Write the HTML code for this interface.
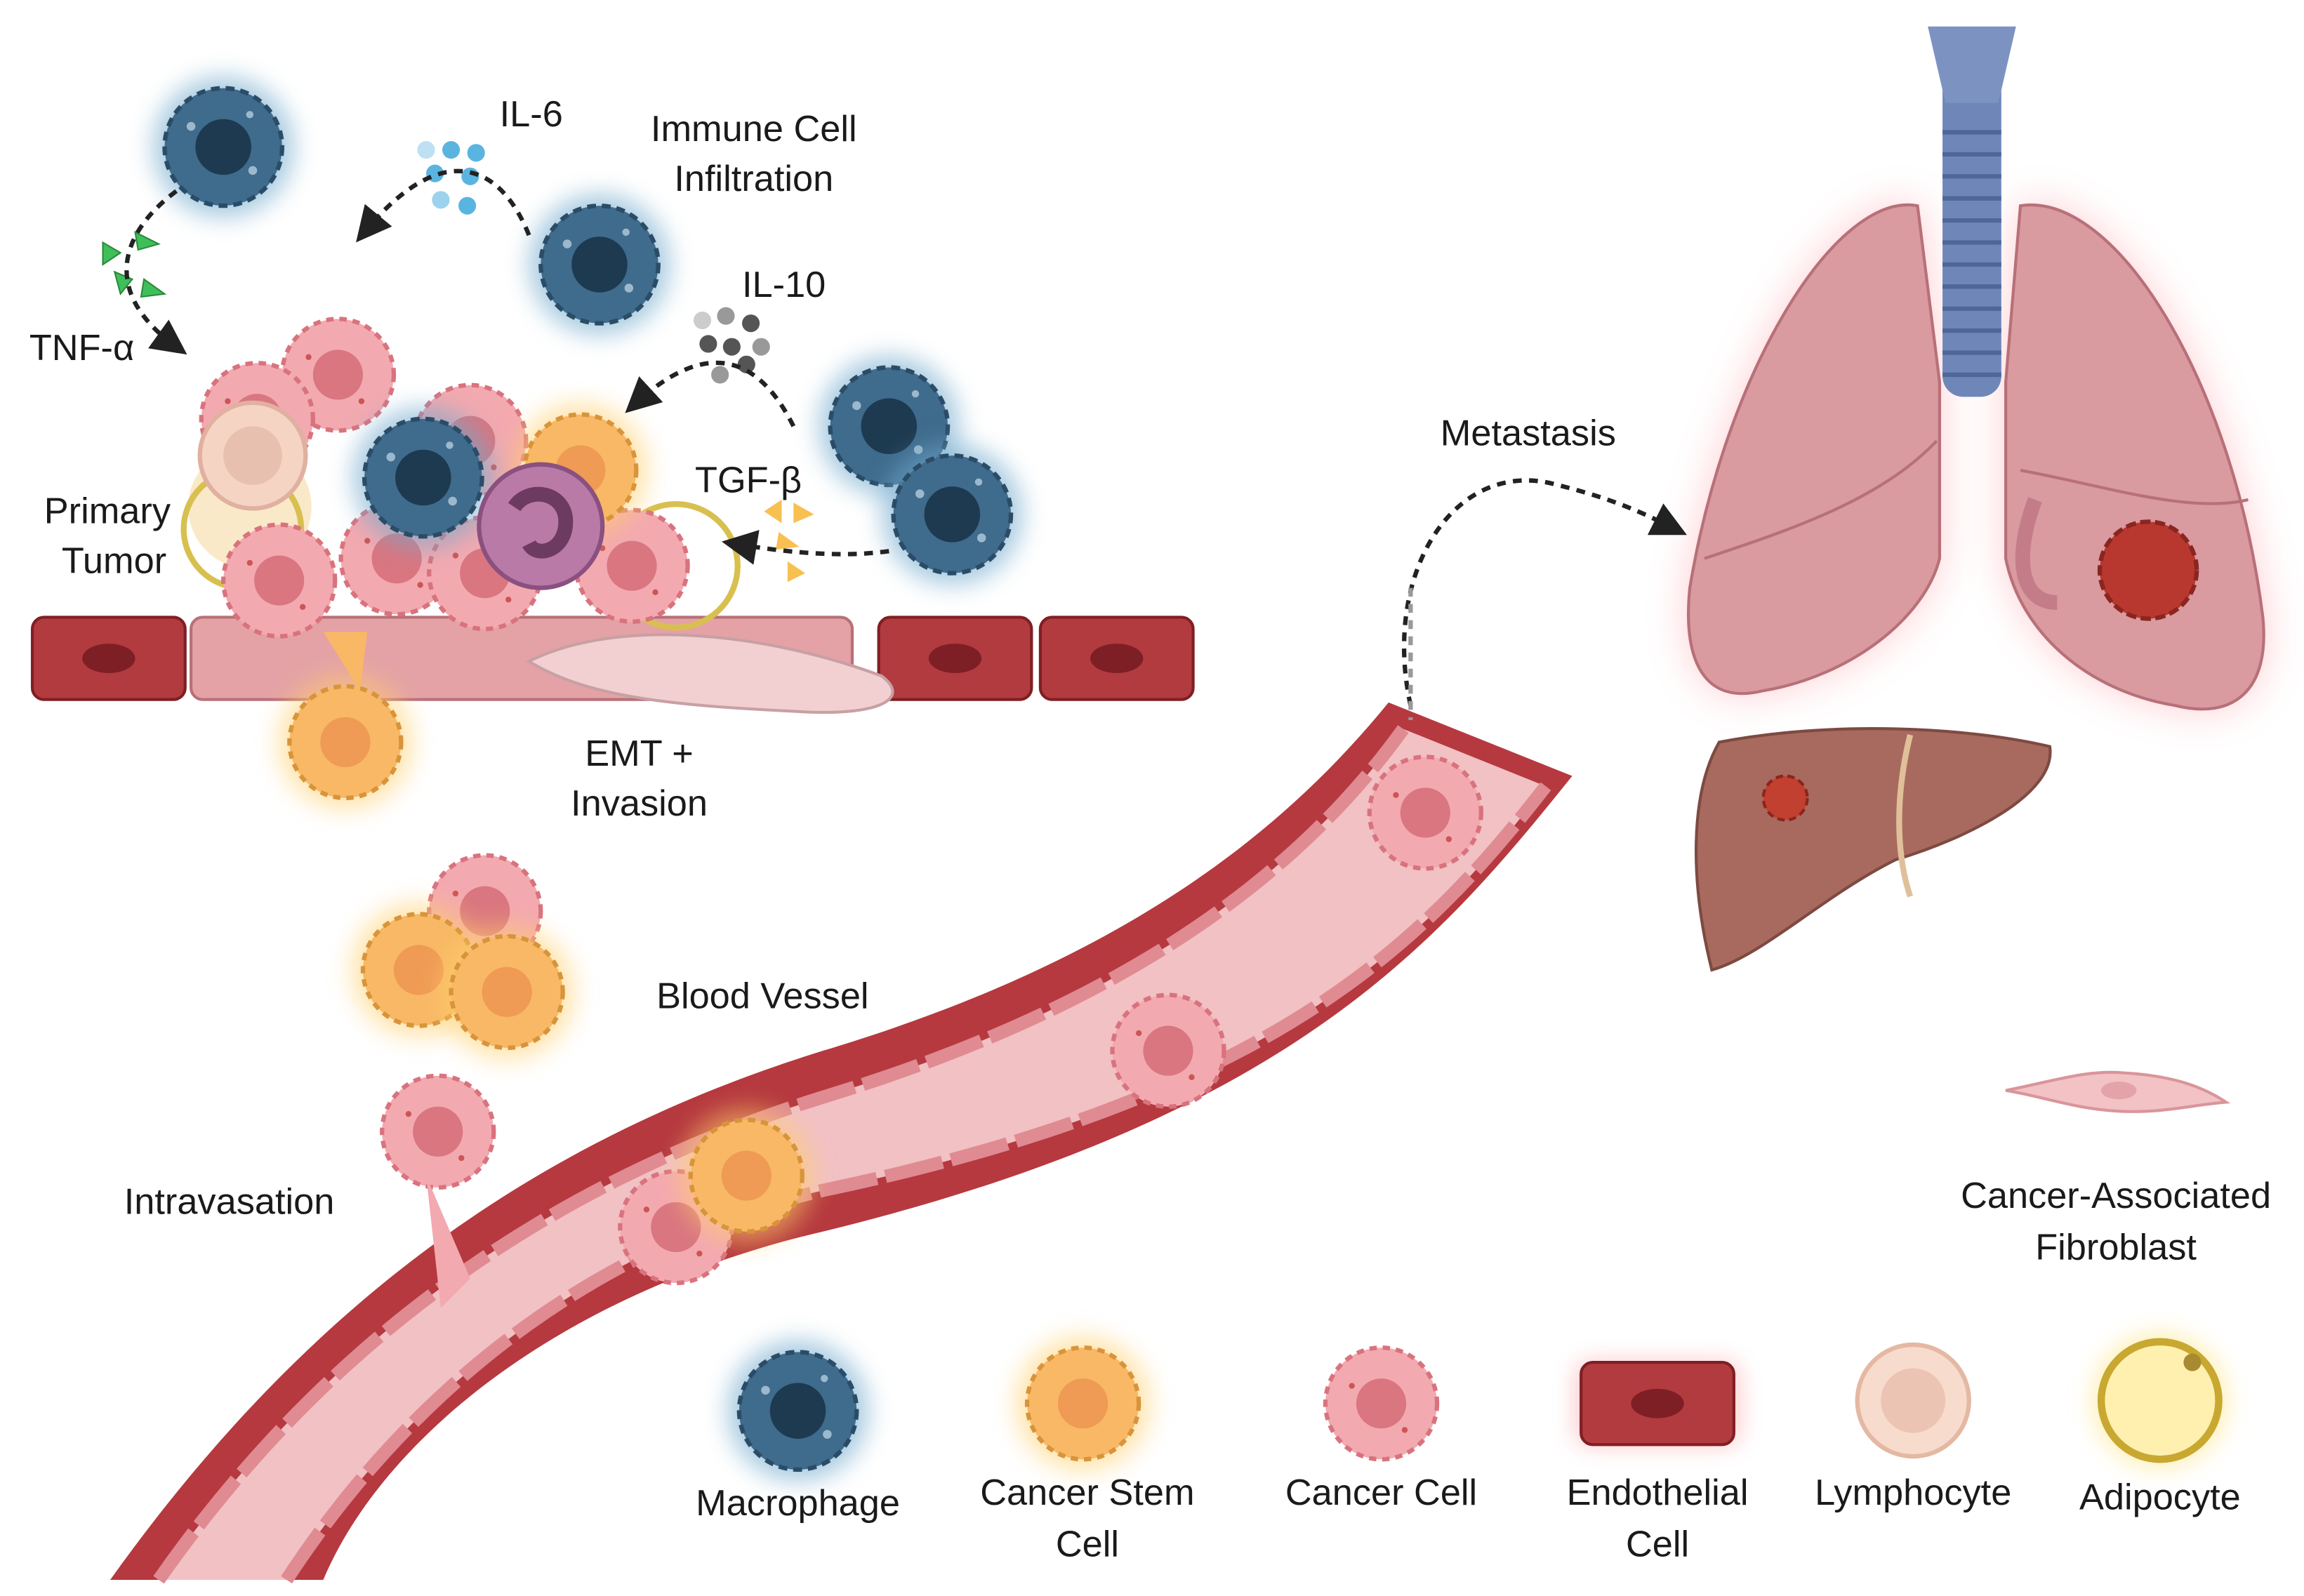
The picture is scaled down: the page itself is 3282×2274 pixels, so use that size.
<!DOCTYPE html>
<html><head><meta charset="utf-8"><style>
html,body{margin:0;padding:0;background:#fff}
svg{display:block}
text{font-family:"Liberation Sans",sans-serif;fill:#1a1a1a;font-size:25px}
</style></head><body>
<svg width="3282" height="2274" viewBox="0 0 1568 1086" preserveAspectRatio="none" xmlns="http://www.w3.org/2000/svg">
<defs>
<filter id="g" x="-50%" y="-50%" width="200%" height="200%"><feGaussianBlur stdDeviation="8"/></filter>
<filter id="g2" x="-30%" y="-30%" width="160%" height="160%"><feGaussianBlur stdDeviation="14"/></filter>
<marker id="ar" markerWidth="8" markerHeight="8" refX="5" refY="4" orient="auto"><path d="M0,0 L8,4 L0,8 z" fill="#222"/></marker>
<g id="mac"><circle r="48" fill="#6fa8cc" opacity=".6" filter="url(#g)"/><circle r="40" fill="#3f6b8c" stroke="#2a4c66" stroke-width="3" stroke-dasharray="6 4"/><circle r="19" fill="#1d3a50"/><circle cx="-22" cy="-14" r="3" fill="#9cb8cc"/><circle cx="20" cy="16" r="3" fill="#9cb8cc"/><circle cx="18" cy="-22" r="2.5" fill="#9cb8cc"/></g>
<g id="cc"><circle r="38" fill="#f3a9b0" stroke="#d8737e" stroke-width="3" stroke-dasharray="5 4"/><circle r="17" fill="#d97680"/><circle cx="-20" cy="-12" r="2" fill="#c55"/><circle cx="16" cy="18" r="2" fill="#c55"/></g>
<g id="csc"><circle r="46" fill="#ffcf6a" opacity=".55" filter="url(#g)"/><circle r="38" fill="#f8b865" stroke="#d8943a" stroke-width="3" stroke-dasharray="5 4"/><circle r="17" fill="#ef9a55"/></g>
<g id="endo"><rect x="-52" y="-28" width="104" height="56" rx="8" fill="#b23b3f" stroke="#7f1f24" stroke-width="2"/><ellipse rx="18" ry="10" fill="#7e1f26"/></g>
</defs>
<rect width="1568" height="1086" fill="#fff"/>

<!-- lungs -->
<g>
<path d="M1305 140 C1250 130 1175 250 1150 400 C1145 450 1160 480 1200 470 C1260 460 1310 420 1320 380 L1320 260 Z" fill="#ff8a95" opacity=".45" filter="url(#g2)"/>
<path d="M1375 140 C1440 130 1520 260 1540 420 C1545 470 1520 490 1480 480 C1420 470 1375 430 1365 380 L1365 260 Z" fill="#ff8a95" opacity=".45" filter="url(#g2)"/>
<path d="M1305 140 C1250 130 1175 250 1150 400 C1145 450 1160 480 1200 470 C1260 460 1310 420 1320 380 L1320 260 Z" fill="#d99aa0" stroke="#b87078" stroke-width="2"/>
<path d="M1375 140 C1440 130 1520 260 1540 420 C1545 470 1520 490 1480 480 C1420 470 1375 430 1365 380 L1365 260 Z" fill="#d99aa0" stroke="#b87078" stroke-width="2"/>
<path d="M1160 380 C1220 360 1280 340 1318 300" stroke="#b87078" stroke-width="2" fill="none"/>
<path d="M1375 320 C1430 330 1490 350 1530 340" stroke="#b87078" stroke-width="2" fill="none"/>
<path d="M1385 340 C1370 380 1375 410 1400 410" stroke="#b06070" stroke-width="10" fill="none" opacity=".5"/>
<rect x="1322" y="20" width="40" height="250" rx="14" fill="#6f86b8"/>
<path d="M1312 18 L1372 18 L1360 70 L1324 70 Z" fill="#7c93c2"/>
<g stroke="#4f6698" stroke-width="3">
<line x1="1322" y1="90" x2="1362" y2="90"/><line x1="1322" y1="105" x2="1362" y2="105"/><line x1="1322" y1="120" x2="1362" y2="120"/><line x1="1322" y1="135" x2="1362" y2="135"/><line x1="1322" y1="150" x2="1362" y2="150"/><line x1="1322" y1="165" x2="1362" y2="165"/><line x1="1322" y1="180" x2="1362" y2="180"/><line x1="1322" y1="195" x2="1362" y2="195"/><line x1="1322" y1="210" x2="1362" y2="210"/><line x1="1322" y1="225" x2="1362" y2="225"/><line x1="1322" y1="240" x2="1362" y2="240"/><line x1="1322" y1="255" x2="1362" y2="255"/>
</g>
<circle cx="1462" cy="388" r="33" fill="#b8382f" stroke="#8a2520" stroke-width="3" stroke-dasharray="7 3"/>
</g>
<!-- liver -->
<path d="M1170 505 C1250 490 1340 495 1395 508 C1400 540 1340 570 1290 585 C1240 610 1200 650 1165 660 C1150 600 1150 540 1170 505 Z" fill="#a86a5e" stroke="#7d4a42" stroke-width="2"/>
<path d="M1300 500 C1290 540 1290 580 1300 610" stroke="#e0c09a" stroke-width="4" fill="none"/>
<circle cx="1215" cy="543" r="15" fill="#c2402f" stroke="#8a2520" stroke-width="2" stroke-dasharray="5 3"/>

<!-- CAF legend -->
<path d="M1365 742 C1400 735 1420 728 1445 730 C1480 732 1500 740 1515 750 C1490 752 1470 758 1440 756 C1410 754 1390 746 1365 742 Z" fill="#f2c2c4" stroke="#d9959a" stroke-width="2"/>
<ellipse cx="1442" cy="742" rx="12" ry="6" fill="#e3a3a8"/>

<!-- blood vessel -->
<path d="M75 1075 C200 900 350 780 560 715 C760 655 870 570 945 478 L1070 528 C980 640 880 760 560 838 C380 880 260 980 220 1075 Z" fill="#b5393f"/>
<path d="M108 1075 C220 915 370 805 565 745 C760 685 880 600 955 496 L1052 535 C970 640 870 745 560 810 C390 850 270 960 195 1075 Z" fill="#f1c1c4"/>
<path d="M108 1075 C220 915 370 805 565 745 C760 685 880 600 955 496" stroke="#e08a92" stroke-width="9" fill="none" stroke-dasharray="40 6"/>
<path d="M195 1075 C270 960 390 850 560 810 C870 745 970 640 1052 535" stroke="#e08a92" stroke-width="9" fill="none" stroke-dasharray="40 6"/>
<use href="#cc" x="970" y="553"/>
<use href="#cc" x="795" y="715"/>
<use href="#cc" x="460" y="835"/>
<use href="#csc" x="508" y="800"/>

<!-- intravasation -->
<use href="#cc" x="298" y="770"/>
<path d="M290 800 L320 870 L300 890 Z" fill="#f3a9b0"/>
<use href="#cc" x="330" y="620"/>
<use href="#csc" x="285" y="660"/>
<use href="#csc" x="345" y="675"/>

<!-- endothelium strip -->
<use href="#endo" x="74" y="448"/>
<rect x="130" y="420" width="450" height="56" rx="8" fill="#e4a2a6" stroke="#b87078" stroke-width="2"/>
<use href="#endo" x="650" y="448"/>
<use href="#endo" x="760" y="448"/>
<path d="M360 450 C420 420 520 430 600 460 C620 475 600 488 540 484 C460 480 400 475 360 450 Z" fill="#f2d0d2" stroke="#c8a0a4" stroke-width="2"/>

<!-- tumor -->
<circle cx="170" cy="345" r="42" fill="#f8e0b0" opacity=".7"/>
<circle cx="460" cy="385" r="42" fill="none" stroke="#d8c050" stroke-width="4"/>
<circle cx="165" cy="360" r="40" fill="none" stroke="#d8c050" stroke-width="4"/>
<use href="#cc" x="230" y="255"/>
<use href="#cc" x="175" y="285"/>
<use href="#cc" x="320" y="300"/>
<use href="#cc" x="190" y="395"/>
<use href="#cc" x="270" y="380"/>
<use href="#cc" x="330" y="390"/>
<use href="#cc" x="430" y="385"/>
<use href="#csc" x="395" y="320"/>
<use href="#csc" x="235" y="505"/>
<path d="M220 430 L250 430 L245 470 Z" fill="#f8b865"/>
<circle cx="172" cy="310" r="36" fill="#f5d4c4" stroke="#e0b0a0" stroke-width="3"/>
<circle cx="172" cy="310" r="20" fill="#e8c0b0"/>
<use href="#mac" x="288" y="325"/>
<circle cx="368" cy="358" r="42" fill="#b97aa8" stroke="#8a5080" stroke-width="3"/>
<path d="M350 345 C360 330 385 335 385 355 C385 375 365 380 360 370" stroke="#6d3a62" stroke-width="10" fill="none"/>

<!-- macrophages -->
<use href="#mac" x="152" y="100"/>
<use href="#mac" x="408" y="180"/>
<use href="#mac" x="605" y="290"/>
<use href="#mac" x="648" y="350"/>

<!-- cytokines -->
<g fill="#5ab4e0"><circle cx="290" cy="102" r="6" opacity=".4"/><circle cx="307" cy="102" r="6"/><circle cx="324" cy="104" r="6"/><circle cx="296" cy="118" r="6"/><circle cx="320" cy="120" r="6"/><circle cx="300" cy="136" r="6" opacity=".6"/><circle cx="318" cy="140" r="6"/></g>
<g fill="#555"><circle cx="478" cy="218" r="6" opacity=".3"/><circle cx="494" cy="215" r="6" opacity=".6"/><circle cx="511" cy="220" r="6"/><circle cx="482" cy="234" r="6"/><circle cx="498" cy="236" r="6"/><circle cx="518" cy="236" r="6" opacity=".6"/><circle cx="490" cy="255" r="6" opacity=".6"/><circle cx="508" cy="248" r="6"/></g>
<g fill="#3fbf5a" stroke="#2a8a3a" stroke-width="1"><path d="M70 165 L82 172 L70 180Z"/><path d="M92 158 L108 166 L94 170Z"/><path d="M78 185 L90 190 L82 200Z"/><path d="M98 190 L112 200 L96 202Z"/></g>
<g fill="#f8c050"><path d="M520 348 L532 340 L532 356Z"/><path d="M540 342 L554 350 L540 356Z"/><path d="M530 362 L544 372 L528 374Z"/><path d="M536 382 L548 390 L536 396Z"/></g>

<!-- arrows -->
<g stroke="#222" stroke-width="3" fill="none" stroke-dasharray="6 5" marker-end="url(#ar)">
<path d="M120 130 C80 160 70 200 120 236"/>
<path d="M360 160 C340 110 300 95 248 158"/>
<path d="M540 290 C510 230 470 240 432 275"/>
<path d="M605 375 C570 380 530 375 500 370"/>
<path d="M960 480 C940 390 990 310 1060 330 C1100 340 1120 350 1140 360"/>
</g>
<line x1="960" y1="400" x2="960" y2="490" stroke="#999" stroke-width="3" stroke-dasharray="6 5"/>

<!-- legend -->
<use href="#mac" x="543" y="960"/>
<use href="#csc" x="737" y="955"/>
<use href="#cc" x="940" y="955"/>
<g transform="translate(1128 955)"><rect x="-55" y="-28" width="110" height="56" rx="8" fill="#ff6a70" opacity=".4" filter="url(#g)"/><rect x="-52" y="-28" width="104" height="56" rx="8" fill="#b23b3f" stroke="#7f1f24" stroke-width="2"/><ellipse rx="18" ry="10" fill="#7e1f26"/></g>
<circle cx="1302" cy="953" r="38" fill="#f7dccd" stroke="#e4b8a2" stroke-width="3"/><circle cx="1302" cy="953" r="22" fill="#ecc4b4"/>
<circle cx="1470" cy="953" r="46" fill="#ffe070" opacity=".5" filter="url(#g)"/>
<circle cx="1470" cy="953" r="40" fill="#fff0b0" stroke="#c8a830" stroke-width="5"/><circle cx="1492" cy="927" r="6" fill="#a88a30"/>

<!-- text -->
<text x="340" y="86">IL-6</text>
<text x="513" y="96" text-anchor="middle">Immune Cell</text>
<text x="513" y="130" text-anchor="middle">Infiltration</text>
<text x="505" y="202">IL-10</text>
<text x="20" y="245">TNF-α</text>
<text x="473" y="335">TGF-β</text>
<text x="30" y="356">Primary</text>
<text x="42" y="390">Tumor</text>
<text x="435" y="521" text-anchor="middle">EMT +</text>
<text x="435" y="555" text-anchor="middle">Invasion</text>
<text x="1040" y="303" text-anchor="middle">Metastasis</text>
<text x="519" y="686" text-anchor="middle">Blood Vessel</text>
<text x="156" y="826" text-anchor="middle">Intravasation</text>
<text x="1440" y="822" text-anchor="middle">Cancer-Associated</text>
<text x="1440" y="857" text-anchor="middle">Fibroblast</text>
<text x="543" y="1031" text-anchor="middle">Macrophage</text>
<text x="740" y="1024" text-anchor="middle">Cancer Stem</text>
<text x="740" y="1059" text-anchor="middle">Cell</text>
<text x="940" y="1024" text-anchor="middle">Cancer Cell</text>
<text x="1128" y="1024" text-anchor="middle">Endothelial</text>
<text x="1128" y="1059" text-anchor="middle">Cell</text>
<text x="1302" y="1024" text-anchor="middle">Lymphocyte</text>
<text x="1470" y="1027" text-anchor="middle">Adipocyte</text>
</svg>
</body></html>
